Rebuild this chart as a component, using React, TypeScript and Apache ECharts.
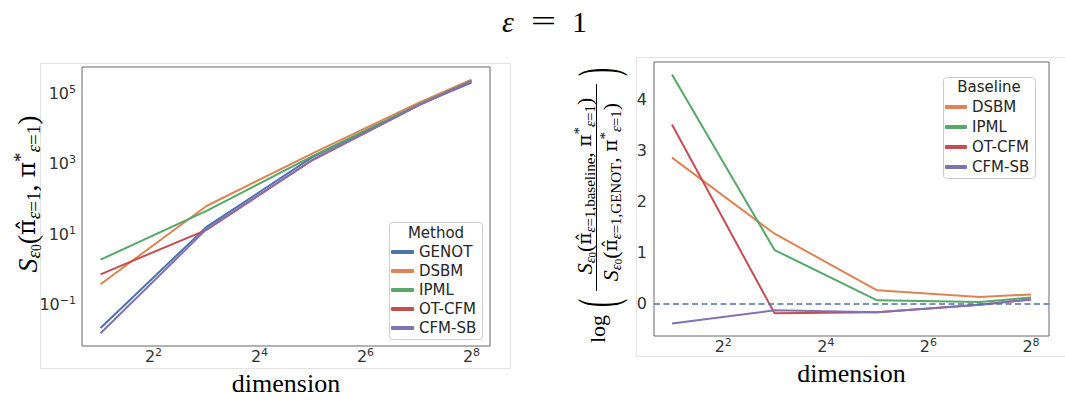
import { useEffect, useRef } from "react";
import * as echarts from "echarts";

// Problem dimensions (log2-spaced x axis)
const dimensions = [2, 8, 32, 128, 256];

// Left panel: Sinkhorn divergence of each method's coupling to the ground truth
const methods = ["GENOT", "DSBM", "IPML", "OT-CFM", "CFM-SB"];
const methodColors = ["#4c72b0", "#dd8452", "#55a868", "#c44e52", "#8172b3"];
const genotScore = [0.021, 16, 1550, 48000, 209000];
const dsbmScore = [0.37, 63, 2000, 55000, 251000];
const ipmlScore = [1.86, 46, 1660, 49000, 234000];
const otcfmScore = [0.71, 13.2, 1290, 46800, 226000];
const cfmsbScore = [0.0148, 13.8, 1290, 46800, 226000];

// Right panel: log ratio of each baseline's divergence over GENOT's
const baselines = ["DSBM", "IPML", "OT-CFM", "CFM-SB"];
const baselineColors = ["#dd8452", "#55a868", "#c44e52", "#8172b3"];
const dsbmLogRatio = [2.86, 1.37, 0.26, 0.13, 0.18];
const ipmlLogRatio = [4.49, 1.05, 0.065, 0.03, 0.12];
const otcfmLogRatio = [3.51, -0.19, -0.17, -0.02, 0.08];
const cfmsbLogRatio = [-0.39, -0.13, -0.17, -0.02, 0.08];

// Tick labels
const xTickExponents = [2, 4, 6, 8];
const leftTickExponents = [-1, 1, 3, 5];
const rightTicks = [0, 1, 2, 3, 4];

const SERIF = "'Liberation Serif', 'DejaVu Serif', serif";
const MATH = "'DejaVu Serif', serif";
const SANS = "'DejaVu Sans', sans-serif";
const TICK_COLOR = "#333333";

function paddedRange(values: number[]): [number, number] {
  const lo = Math.min(...values);
  const hi = Math.max(...values);
  const pad = (hi - lo) * 0.05;
  return [lo - pad, hi + pad];
}

function powerLabel(base: string, exp: number) {
  const e = exp < 0 ? "\u2212" + Math.abs(exp) : String(exp);
  return `{b|${base}}{s|${e}}`;
}

const tickRich = {
  b: { fontSize: 16, lineHeight: 19, fontFamily: SANS, color: TICK_COLOR },
  s: { fontSize: 11, lineHeight: 12, verticalAlign: "top", fontFamily: SANS, color: TICK_COLOR },
};

// rich styles for math-like labels
function mathRich(main: number, sub: number, lineH: number) {
  return {
    m: { fontSize: main, fontStyle: "italic", lineHeight: lineH, fontFamily: SERIF, color: "#000" },
    h: { fontSize: main * 0.85, lineHeight: lineH, fontFamily: MATH, color: "#000" },
    r: { fontSize: main, lineHeight: lineH, fontFamily: SERIF, color: "#000" },
    si: { fontSize: sub, fontStyle: "italic", lineHeight: sub, verticalAlign: "bottom", fontFamily: SERIF, color: "#000" },
    sr: { fontSize: sub, lineHeight: sub, verticalAlign: "bottom", fontFamily: SERIF, color: "#000" },
    ss: { fontSize: sub * 0.72, lineHeight: sub * 0.55, verticalAlign: "bottom", fontFamily: SERIF, color: "#000" },
    sp: { fontSize: sub, lineHeight: sub, verticalAlign: "top", fontFamily: SERIF, color: "#000" },
  };
}

function divergenceText(tag: string | null) {
  const sub = tag ? `{sr|=1,${tag}}` : "{sr|=1}";
  return (
    "{m|S}{si|\u03b5}{ss|0}{r|(}{h|\u03c0\u0302}{si|\u03b5}" +
    sub +
    "{r|, }{h|\u03c0}{sp|*}{si|\u03b5}{sr|=1}{r|)}"
  );
}

export default function App() {
  const ref = useRef<HTMLDivElement>(null);

  useEffect(() => {
    if (!ref.current) return;
    const chart = echarts.init(ref.current, undefined, { renderer: "svg" });

    const xs = dimensions.map((d) => Math.log2(d));
    const scores = [genotScore, dsbmScore, ipmlScore, otcfmScore, cfmsbScore];
    const ratios = [dsbmLogRatio, ipmlLogRatio, otcfmLogRatio, cfmsbLogRatio];
    const logScores = scores.map((s) => s.map((v) => Math.log10(v)));

    const xRange = paddedRange(xs);
    const leftRange = paddedRange(logScores.flat());
    const rightRange = paddedRange(ratios.flat());

    const xAxis = (gridIndex: number) => ({
      type: "value",
      gridIndex,
      min: xRange[0],
      max: xRange[1],
      axisLine: { show: false },
      axisTick: { show: false },
      splitLine: { show: false },
      axisLabel: {
        customValues: xTickExponents,
        formatter: (v: number) => powerLabel("2", v),
        rich: tickRich,
        margin: 1,
      },
      name: "dimension",
      nameLocation: "middle",
      nameGap: 24,
      nameTextStyle: { fontFamily: SERIF, fontSize: 26, color: "#000" },
    });

    const leftSeries = methods.map((name, i) => ({
      type: "line",
      name,
      xAxisIndex: 0,
      yAxisIndex: 0,
      symbol: "none",
      data: xs.map((x, j) => [x, logScores[i][j]]),
      lineStyle: { width: 2, color: methodColors[i] },
      itemStyle: { color: methodColors[i] },
    }));

    const rightSeries = baselines.map((name, i) => ({
      type: "line",
      name,
      xAxisIndex: 1,
      yAxisIndex: 1,
      symbol: "none",
      data: xs.map((x, j) => [x, ratios[i][j]]),
      lineStyle: { width: 2, color: baselineColors[i] },
      itemStyle: { color: baselineColors[i] },
      z: 3,
    }));
    (rightSeries[0] as any).markLine = {
      silent: true,
      symbol: ["none", "none"],
      label: { show: false },
      lineStyle: { type: [6, 3.5], color: "#4c72b0", width: 1.5 },
      data: [{ yAxis: 0 }],
    };

    const legendText = { fontSize: 15, color: "#262626", fontFamily: SANS };

    const leftLabelRich = mathRich(28, 19, 32);
    const rightLabelRich = mathRich(22, 15, 26);

    const rot = Math.PI / 2;
    const titleText = (x: number, text: string, italic: boolean, scaleX = 1) => ({
      type: "text",
      x,
      y: 21,
      scaleX,
      style: {
        text,
        align: "center",
        verticalAlign: "middle",
        fontSize: 30,
        fontStyle: italic ? "italic" : "normal",
        fontFamily: SERIF,
        fill: "#000",
      },
    });

    chart.setOption({
      animation: false,
      backgroundColor: "#ffffff",
      grid: [
        { left: 82, top: 67, width: 408, height: 279, show: true, borderColor: "#666", borderWidth: 1, backgroundColor: "#fff" },
        { left: 654, top: 62, width: 395, height: 274, show: true, borderColor: "#666", borderWidth: 1, backgroundColor: "#fff" },
      ],
      xAxis: [xAxis(0), xAxis(1)],
      yAxis: [
        {
          type: "value",
          gridIndex: 0,
          min: leftRange[0],
          max: leftRange[1],
          axisLine: { show: false },
          axisTick: { show: false },
          splitLine: { show: false },
          axisLabel: {
            customValues: leftTickExponents,
            formatter: (v: number) => powerLabel("10", v),
            rich: tickRich,
            margin: 6,
          },
        },
        {
          type: "value",
          gridIndex: 1,
          min: rightRange[0],
          max: rightRange[1],
          axisLine: { show: false },
          axisTick: { show: false },
          splitLine: { show: false },
          axisLabel: {
            customValues: rightTicks,
            formatter: (v: number) => String(v),
            fontSize: 16,
            color: TICK_COLOR,
            fontFamily: SANS,
            margin: 7,
          },
        },
      ],
      legend: [
        {
          data: methods,
          orient: "vertical",
          left: 391,
          top: 242.5,
          itemWidth: 23,
          itemHeight: 4,
          itemGap: 0,
          icon: "roundRect",
          padding: 0,
          selectedMode: false,
          textStyle: { ...legendText, lineHeight: 19 },
          z: 6,
        },
        {
          data: baselines,
          orient: "vertical",
          left: 945,
          top: 97,
          itemWidth: 22,
          itemHeight: 4,
          itemGap: 0,
          icon: "roundRect",
          padding: 0,
          selectedMode: false,
          textStyle: { ...legendText, lineHeight: 20 },
          z: 6,
        },
      ],
      graphic: [
        // faint outer frames around each panel
        { type: "rect", z: -1, shape: { x: 40.5, y: 63.5, width: 470, height: 305 }, style: { fill: "none", stroke: "#e3e3e3", lineWidth: 1 } },
        { type: "rect", z: -1, shape: { x: 636.5, y: 57.5, width: 440, height: 299 }, style: { fill: "none", stroke: "#e3e3e3", lineWidth: 1 } },
        // figure title: ε = 1
        titleText(508, "\u03b5", true),
        titleText(543.5, "=", false, 1.5),
        titleText(579.5, "1", false),
        // legend frames and titles
        { type: "rect", z: 5, shape: { x: 389.5, y: 222.5, width: 93, height: 117, r: 3 }, style: { fill: "rgba(255,255,255,0.8)", stroke: "#cccccc", lineWidth: 1 } },
        { type: "text", z: 6, x: 436, y: 233, style: { text: "Method", align: "center", verticalAlign: "middle", fontSize: 15, fontFamily: SANS, fill: "#262626" } },
        { type: "rect", z: 5, shape: { x: 943.5, y: 77.5, width: 92, height: 101, r: 3 }, style: { fill: "rgba(255,255,255,0.8)", stroke: "#cccccc", lineWidth: 1 } },
        { type: "text", z: 6, x: 989, y: 87, style: { text: "Baseline", align: "center", verticalAlign: "middle", fontSize: 15, fontFamily: SANS, fill: "#262626" } },
        // left y-axis title
        {
          type: "text",
          x: 27,
          y: 194,
          rotation: rot,
          style: { text: divergenceText(null), align: "center", verticalAlign: "middle", rich: leftLabelRich },
        },
        // right y-axis title: log( numerator / denominator )
        {
          type: "text",
          x: 597,
          y: 329,
          rotation: rot,
          style: { text: "log", align: "center", verticalAlign: "middle", fontSize: 22, fontFamily: SERIF, fill: "#000" },
        },
        {
          type: "text",
          x: 597,
          y: 303,
          rotation: rot,
          scaleY: 2.3,
          style: { text: "(", align: "center", verticalAlign: "middle", fontSize: 24, fontFamily: SERIF, fill: "#000" },
        },
        {
          type: "text",
          x: 584,
          y: 186,
          rotation: rot,
          style: { text: divergenceText("baseline"), align: "center", verticalAlign: "middle", rich: rightLabelRich },
        },
        {
          type: "line",
          shape: { x1: 596.5, y1: 84, x2: 596.5, y2: 291 },
          style: { stroke: "#000", lineWidth: 1 },
        },
        {
          type: "text",
          x: 610,
          y: 192,
          rotation: rot,
          style: { text: divergenceText("GENOT"), align: "center", verticalAlign: "middle", rich: rightLabelRich },
        },
        {
          type: "text",
          x: 597,
          y: 72,
          rotation: rot,
          scaleY: 2.3,
          style: { text: ")", align: "center", verticalAlign: "middle", fontSize: 24, fontFamily: SERIF, fill: "#000" },
        },
      ],
      series: [...leftSeries, ...rightSeries],
    });

    return () => chart.dispose();
  }, []);

  return (
    <div
      ref={ref}
      style={{ position: "fixed", left: 0, top: 0, width: 1065, height: 403, background: "#fff" }}
    />
  );
}
